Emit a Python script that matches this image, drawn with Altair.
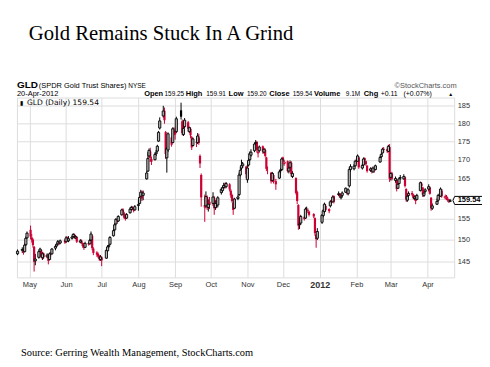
import altair as alt
import pandas as pd

# trading days shown, by month
days = {
    "2011-04": [21, 25, 26, 27, 28, 29],
    "2011-05": [2, 3, 4, 5, 6, 9, 10, 11, 12, 13, 16, 17, 18, 19, 20, 23, 24, 25, 26, 27, 31],
    "2011-06": [1, 2, 3, 6, 7, 8, 9, 10, 13, 14, 15, 16, 17, 20, 21, 22, 23, 24, 27, 28, 29, 30],
    "2011-07": [1, 5, 6, 7, 8, 11, 12, 13, 14, 15, 18, 19, 20, 21, 22, 25, 26, 27, 28, 29],
    "2011-08": [1, 2, 3, 4, 5, 8, 9, 10, 11, 12, 15, 16, 17, 18, 19, 22, 23, 24, 25, 26, 29, 30, 31],
    "2011-09": [1, 2, 6, 7, 8, 9, 12, 13, 14, 15, 16, 19, 20, 21, 22, 23, 26, 27, 28, 29, 30],
    "2011-10": [3, 4, 5, 6, 7, 10, 11, 12, 13, 14, 17, 18, 19, 20, 21, 24, 25, 26, 27, 28, 31],
    "2011-11": [1, 2, 3, 4, 7, 8, 9, 10, 11, 14, 15, 16, 17, 18, 21, 22, 23, 25, 28, 29, 30],
    "2011-12": [1, 2, 5, 6, 7, 8, 9, 12, 13, 14, 15, 16, 19, 20, 21, 22, 23, 27, 28, 29, 30],
    "2012-01": [3, 4, 5, 6, 9, 10, 11, 12, 13, 17, 18, 19, 20, 23, 24, 25, 26, 27, 30, 31],
    "2012-02": [1, 2, 3, 6, 7, 8, 9, 10, 13, 14, 15, 16, 17, 21, 22, 23, 24, 27, 28, 29],
    "2012-03": [1, 2, 5, 6, 7, 8, 9, 12, 13, 14, 15, 16, 19, 20, 21, 22, 23, 26, 27, 28, 29, 30],
    "2012-04": [2, 3, 4, 5, 9, 10, 11, 12, 13, 16, 17, 18, 19, 20],
}

open_ = [
    146.8, 147.6, 147.9, 147.3, 148.9, 150.5,
    152.4, 150.6, 150.1, 148.4, 145.2, 146.0, 147.4, 147.6, 145.9, 146.9, 146.1, 146.3, 145.5, 146.9, 146.8, 148.1, 148.6, 149.1, 149.7, 149.3, 149.9,
    149.6, 150.6, 149.8, 150.4, 150.8, 151.2, 150.5, 150.7, 149.5, 149.9, 149.3, 148.5, 148.3, 149.3, 149.1, 150.0, 151.0, 148.0, 147.1, 146.8, 146.3, 145.5,
    146.0, 145.8, 147.5, 148.5, 149.0, 151.0, 152.4, 153.8, 154.8, 154.5, 156.0, 157.3, 156.4, 155.4, 155.2, 156.5, 157.3, 157.9, 157.6, 157.2,
    158.3, 158.8, 160.6, 161.8, 160.8, 165.0, 167.0, 171.0, 172.2, 170.2, 170.0, 171.6, 172.3, 175.0, 178.6, 182.0, 183.5, 177.5, 170.5, 172.6, 176.0, 174.6, 177.8,
    178.0, 177.6, 183.6, 180.5, 176.8, 179.0, 180.2, 177.6, 178.4, 176.0, 173.8, 174.8, 174.6, 176.0, 171.0, 166.0, 158.4, 158.2, 160.4, 157.8, 159.2,
    158.8, 160.2, 157.8, 158.9, 158.4, 161.5, 162.0, 162.8, 163.6, 163.0, 163.6, 162.0, 160.9, 159.0, 157.6, 160.0, 161.0, 166.0, 167.8, 168.4, 168.2,
    164.8, 168.6, 170.0, 171.2, 172.4, 174.4, 174.8, 171.8, 172.4, 173.6, 172.0, 172.6, 170.6, 167.2, 166.6, 164.6, 166.0, 164.4, 165.2, 167.2, 167.4,
    170.6, 169.0, 169.6, 167.0, 168.0, 169.2, 165.6, 165.2, 161.6, 158.4, 153.6, 154.0, 155.4, 155.2, 157.6, 157.2, 156.8, 156.2, 155.2, 151.2, 150.4,
    154.2, 155.8, 156.8, 158.2, 157.4, 158.2, 159.6, 159.2, 160.6, 161.0, 161.2, 160.2, 160.8, 161.6, 162.0, 161.2, 163.2, 167.4, 167.6, 168.4,
    169.8, 169.6, 170.6, 167.8, 168.6, 170.4, 169.6, 168.4, 167.2, 167.8, 166.8, 167.6, 167.4, 169.4, 170.8, 171.8, 172.9, 172.8, 172.2, 173.4,
    165.4, 166.4, 164.6, 164.8, 162.6, 163.8, 165.2, 165.0, 165.4, 162.4, 159.6, 160.8, 161.4, 161.0, 160.0, 160.6, 159.8, 162.0, 163.8, 162.8, 160.8, 161.8,
    162.4, 162.8, 160.2, 157.6, 158.6, 159.6, 160.8, 160.6, 162.0, 160.2, 160.6, 160.0, 159.4, 159.25,
]

high = [
    147.8, 148.3, 148.0, 149.2, 150.8, 152.0,
    153.4, 151.4, 150.4, 148.6, 146.8, 147.6, 148.2, 147.8, 147.2, 147.1, 146.9, 146.6, 147.1, 147.3, 148.1, 148.9, 149.2, 150.0, 149.8, 150.1, 150.2,
    150.9, 150.8, 150.9, 151.0, 151.6, 151.5, 151.2, 150.9, 150.2, 150.1, 149.5, 148.9, 149.6, 149.5, 150.3, 152.0, 151.2, 148.3, 147.4, 147.1, 146.5, 146.5,
    146.2, 147.8, 148.8, 149.0, 150.9, 152.6, 154.0, 155.2, 155.0, 155.9, 157.5, 157.6, 156.7, 155.9, 156.4, 157.8, 158.2, 158.1, 157.8, 158.4,
    159.6, 160.6, 162.2, 162.0, 162.0, 167.0, 172.0, 173.0, 173.2, 170.8, 171.8, 172.6, 174.0, 177.8, 181.6, 184.9, 184.4, 177.8, 173.5, 177.4, 176.2, 178.8, 178.8,
    178.6, 181.8, 185.8, 181.0, 179.2, 181.4, 180.6, 179.0, 178.8, 176.4, 176.0, 175.8, 177.2, 177.0, 171.4, 166.4, 161.0, 161.8, 160.8, 159.8, 160.4,
    161.6, 160.6, 159.6, 159.8, 160.6, 162.8, 163.2, 164.0, 164.0, 164.2, 163.9, 162.4, 161.2, 159.3, 160.2, 161.0, 166.6, 168.0, 170.0, 169.4, 168.4,
    168.6, 170.4, 172.2, 172.8, 174.6, 175.3, 175.0, 172.6, 173.8, 173.8, 173.2, 173.0, 170.8, 168.2, 166.8, 166.8, 166.4, 165.0, 167.4, 167.8, 170.6,
    170.8, 170.0, 169.8, 168.2, 169.8, 169.6, 167.0, 165.4, 162.0, 158.6, 155.2, 156.0, 155.8, 157.8, 158.0, 157.6, 157.0, 156.4, 155.4, 151.4, 152.8,
    156.2, 157.4, 159.0, 158.6, 157.6, 159.6, 159.8, 160.8, 160.8, 161.8, 161.4, 161.2, 161.8, 162.8, 162.4, 162.6, 168.0, 168.8, 168.8, 170.0,
    170.4, 171.4, 170.8, 168.9, 170.6, 170.6, 169.8, 168.6, 168.0, 167.9, 168.2, 167.8, 168.7, 171.0, 171.8, 173.2, 173.4, 173.0, 174.0, 174.2,
    166.8, 166.8, 165.6, 164.9, 163.9, 165.4, 166.0, 166.2, 165.6, 162.6, 160.9, 161.8, 161.9, 161.2, 160.8, 160.8, 161.2, 164.3, 164.2, 163.0, 161.8, 162.6,
    163.6, 163.0, 160.4, 158.8, 160.0, 161.2, 161.0, 162.8, 162.4, 161.0, 160.9, 160.4, 159.9, 159.91,
]

low = [
    146.5, 147.0, 146.6, 147.1, 148.6, 150.3,
    150.2, 149.4, 148.2, 142.8, 144.2, 145.7, 147.0, 145.8, 145.4, 145.6, 145.8, 144.4, 145.3, 146.2, 146.6, 147.6, 148.4, 148.9, 148.8, 149.0, 149.1,
    149.3, 149.6, 149.5, 150.1, 150.5, 150.3, 150.2, 149.3, 149.2, 149.1, 148.2, 147.7, 148.1, 148.7, 148.9, 149.8, 147.6, 146.5, 146.1, 145.8, 145.2, 145.2,
    144.0, 145.7, 147.3, 148.1, 148.8, 150.8, 152.1, 153.5, 153.9, 154.3, 155.8, 156.0, 155.0, 154.6, 155.0, 156.3, 157.0, 157.2, 156.6, 157.0,
    157.0, 158.6, 160.4, 159.4, 159.6, 164.8, 166.8, 170.4, 169.4, 168.6, 169.8, 171.0, 172.1, 174.8, 178.2, 181.5, 179.8, 170.2, 166.6, 172.0, 173.5, 174.4, 176.6,
    175.4, 177.2, 181.0, 176.6, 176.4, 178.6, 177.6, 177.2, 175.8, 172.6, 173.5, 173.4, 174.2, 174.0, 167.8, 158.0, 154.3, 157.6, 157.2, 156.8, 157.4,
    158.2, 156.0, 157.2, 157.6, 157.8, 161.0, 161.6, 162.5, 162.5, 162.6, 161.8, 160.2, 159.0, 156.0, 157.4, 159.6, 160.6, 165.6, 167.2, 167.8, 165.2,
    164.0, 168.2, 169.6, 170.8, 172.0, 173.8, 172.0, 170.6, 172.0, 171.6, 171.6, 170.6, 167.0, 166.2, 163.8, 164.2, 163.8, 162.2, 165.0, 166.4, 167.0,
    168.8, 168.4, 166.6, 166.4, 167.6, 165.6, 165.2, 161.0, 158.6, 152.4, 152.6, 153.6, 154.6, 155.0, 156.8, 156.4, 155.6, 155.2, 151.0, 148.2, 150.0,
    153.8, 155.4, 156.4, 156.8, 156.4, 157.8, 158.6, 159.0, 158.8, 160.6, 160.2, 159.8, 160.4, 161.4, 161.0, 160.8, 162.8, 166.8, 167.2, 168.2,
    168.8, 169.4, 167.6, 167.4, 168.4, 169.4, 168.4, 166.6, 166.8, 166.4, 166.6, 166.6, 167.2, 169.2, 170.4, 171.6, 172.0, 171.8, 172.0, 164.2,
    164.6, 164.6, 164.0, 161.8, 162.4, 163.6, 164.8, 164.8, 162.8, 159.2, 159.2, 160.4, 160.6, 159.8, 159.6, 158.6, 159.6, 161.8, 162.8, 160.4, 160.4, 161.4,
    161.8, 161.0, 157.0, 157.2, 158.4, 159.2, 159.8, 160.4, 160.2, 159.8, 159.6, 159.2, 158.9, 159.20,
]

close = [
    147.4, 147.8, 147.2, 148.8, 150.4, 151.6,
    150.8, 150.0, 148.8, 145.0, 145.6, 147.3, 147.9, 146.1, 146.8, 146.0, 146.5, 145.2, 146.8, 146.7, 147.9, 148.5, 149.0, 149.6, 149.2, 149.8, 149.4,
    150.5, 149.9, 150.3, 150.7, 151.3, 150.6, 150.8, 149.6, 149.8, 149.4, 148.6, 148.2, 149.2, 149.0, 149.9, 151.4, 148.1, 147.0, 146.6, 146.2, 145.6, 146.1,
    145.3, 147.6, 148.4, 148.7, 150.6, 152.2, 153.6, 154.9, 154.3, 155.6, 157.2, 156.5, 155.3, 155.0, 156.1, 157.4, 157.8, 157.5, 157.0, 158.0,
    158.5, 160.3, 161.6, 160.0, 161.4, 166.5, 170.3, 172.5, 170.5, 169.5, 171.4, 172.0, 173.6, 177.4, 180.6, 183.4, 180.8, 171.5, 173.0, 177.0, 174.0, 178.4, 177.6,
    176.8, 181.2, 181.8, 177.2, 178.5, 180.8, 178.4, 178.7, 176.6, 173.3, 175.6, 174.6, 176.4, 174.5, 169.0, 160.3, 157.8, 160.5, 158.0, 158.6, 158.4,
    160.4, 157.6, 158.8, 158.5, 160.2, 162.3, 162.7, 163.3, 163.2, 163.8, 162.3, 160.8, 159.4, 157.2, 159.9, 160.4, 166.0, 167.2, 168.5, 168.9, 166.2,
    167.8, 169.8, 171.6, 172.0, 174.2, 174.6, 172.6, 172.0, 173.4, 172.2, 172.8, 171.0, 167.6, 167.2, 164.4, 166.4, 164.2, 163.6, 166.8, 167.0, 170.2,
    169.6, 169.4, 167.0, 167.8, 169.2, 166.2, 166.4, 161.4, 159.4, 153.4, 153.8, 155.6, 155.0, 157.4, 157.6, 157.0, 156.0, 155.6, 151.6, 150.2, 152.0,
    155.9, 157.0, 158.6, 157.2, 156.9, 159.2, 159.1, 160.4, 159.2, 161.2, 160.6, 160.6, 161.4, 162.6, 161.4, 162.2, 167.4, 168.2, 168.3, 169.6,
    169.4, 171.0, 168.0, 168.5, 170.2, 169.8, 168.8, 167.0, 167.6, 166.9, 167.8, 167.2, 168.4, 170.6, 171.4, 172.8, 172.6, 172.3, 173.6, 165.0,
    166.4, 165.0, 165.1, 162.4, 163.6, 165.0, 165.3, 165.6, 163.2, 159.8, 160.6, 161.3, 161.0, 160.2, 160.4, 159.4, 160.8, 164.0, 163.2, 161.0, 161.4, 162.2,
    163.0, 161.2, 157.6, 158.2, 159.3, 160.8, 160.4, 162.4, 160.6, 160.5, 160.1, 159.6, 159.4, 159.54,
]

price_ticks = [145, 150, 155, 160, 165, 170, 175, 180, 185]
last_price = 159.54

dates = [f"{ym}-{d:02d}T00:00:00" for ym, ds in days.items() for d in ds]
n = min(len(dates), len(open_), len(high), len(low), len(close))
df = pd.DataFrame({
    "date": dates[:n], "open": open_[:n], "high": high[:n], "low": low[:n], "close": close[:n],
})
prev = df["close"].shift(1).fillna(df["open"])
df["dir"] = ["up" if c >= p else "down" for c, p in zip(df["close"], prev)]
df["hollow"] = df["close"] > df["open"]

W, H = 440, 181
RED = "#cc0033"
SANS = "Liberation Sans"

xscale = alt.Scale(domain=[alt.DateTime(year=2011, month=4, date=20, hours=12),
                           alt.DateTime(year=2012, month=4, date=23, hours=12)], padding=0)
yscale = alt.Scale(type="log", domain=[141.5, 187.3], nice=False, zero=False, padding=0)
cscale = alt.Scale(domain=["up", "down"], range=["#000000", RED])

x_enc = alt.X("date:T", scale=xscale, axis=alt.Axis(
    title=None, tickCount={"interval": "month", "step": 1},
    labelExpr="month(datum.value) == 0 ? timeFormat(datum.value, '%Y') : timeFormat(datum.value, '%b')",
    labelFontWeight={"condition": {"test": "month(datum.value) == 0", "value": "bold"}, "value": "normal"},
    labelFontSize={"condition": {"test": "month(datum.value) == 0", "value": 9}, "value": 7.5},
    labelColor="#333333", labelFont=SANS, labelPadding=3, ticks=False, domain=False,
    grid=True, gridColor="#dddddd", labelOverlap=False, labelFlush=False))
y_enc = alt.Y("low:Q", scale=yscale, axis=alt.Axis(
    title=None, orient="right", values=price_ticks, ticks=False, domain=False,
    labelExpr="datum.value == 160 ? '' : datum.label",
    labelColor="#333333", labelFont=SANS, labelFontSize=7.5, labelPadding=3,
    grid=True, gridColor="#dddddd"))

base = alt.Chart(df)
wick = base.mark_rule(strokeWidth=1).encode(
    x=x_enc, y=y_enc, y2="high:Q",
    color=alt.Color("dir:N", scale=cscale, legend=None))
filled = base.transform_filter("!datum.hollow").mark_bar(width=2.2).encode(
    x="date:T", y="open:Q", y2="close:Q",
    color=alt.Color("dir:N", scale=cscale, legend=None))
hollow = base.transform_filter("datum.hollow").mark_bar(width=2.2, fill="#bbbbbb", strokeWidth=0.9).encode(
    x="date:T", y="open:Q", y2="close:Q",
    stroke=alt.Stroke("dir:N", scale=cscale, legend=None))

one = pd.DataFrame({"a": [0]})


def label(text, x, y, size=7.5, weight="normal", color="#000000", font=SANS, align="left"):
    return alt.Chart(one).mark_text(
        text=text, align=align, baseline="alphabetic", fontSize=size, fontWeight=weight,
        color=color, font=font).encode(x=alt.value(x), y=alt.value(y))


texts = [
    label("Gold Remains Stuck In A Grind", 12, -57.5, size=20.8, font="Liberation Serif"),
    label("GLD", 0, -10, size=10, weight="bold"),
    label("(SPDR Gold Trust Shares)", 22, -10, size=7.5),
    label("NYSE", 112, -10, size=6.5),
    label("20-Apr-2012", 0, -1.8, size=7.5),
    label("Open", 128, -1.8, size=7.5, weight="bold"),
    label("159.25", 148.5, -1.8, size=6.5),
    label("High", 170, -1.8, size=7.5, weight="bold"),
    label("159.91", 190.5, -1.8, size=6.5),
    label("Low", 213, -1.8, size=7.5, weight="bold"),
    label("159.20", 231.5, -1.8, size=6.5),
    label("Close", 254, -1.8, size=7.5, weight="bold"),
    label("159.54", 277.5, -1.8, size=6.5),
    label("Volume", 299, -1.8, size=7.5, weight="bold"),
    label("9.1M", 331, -1.8, size=6.5),
    label("Chg", 349, -1.8, size=7.5, weight="bold"),
    label("+0.11", 366, -1.8, size=7),
    label("(+0.07%)", 389, -1.8, size=7),
    label("\u25b2", 434, -1.8, size=5),
    label("\u00a9StockCharts.com", 380, -10, size=7.5, color="#555555"),
    label("\u25ae", 3, 8, size=6.5),
    label("GLD (Daily) 159.54", 10, 8, size=7.6, font="DejaVu Sans"),
    label("Source: Gerring Wealth Management, StockCharts.com", 4, 260, size=10.5, font="Liberation Serif"),
]

box = alt.Chart(one).mark_point(
    shape="M-1.12,0L-1,-0.28L1,-0.28L1,0.28L-1,0.28Z", size=841, filled=True,
    fill="white", stroke="#000000", strokeWidth=1, opacity=1).encode(
    x=alt.value(W + 15), y=alt.datum(last_price))
box_text = alt.Chart(one).mark_text(
    text=f"{last_price:.2f}", fontSize=7.5, fontWeight="bold", font=SANS, align="center",
    baseline="middle", color="#000000").encode(x=alt.value(W + 15), y=alt.datum(last_price))

chart = alt.layer(wick, filled, hollow, *texts, box, box_text).properties(
    width=W, height=H,
    autosize=alt.AutoSizeParams(type="none"),
    padding={"left": 9, "top": 89, "right": 28, "bottom": 80},
).configure_view(stroke="#999999", strokeWidth=1).configure(background="white")

chart.save("out.html", embed_options={"renderer": "svg", "actions": False})
